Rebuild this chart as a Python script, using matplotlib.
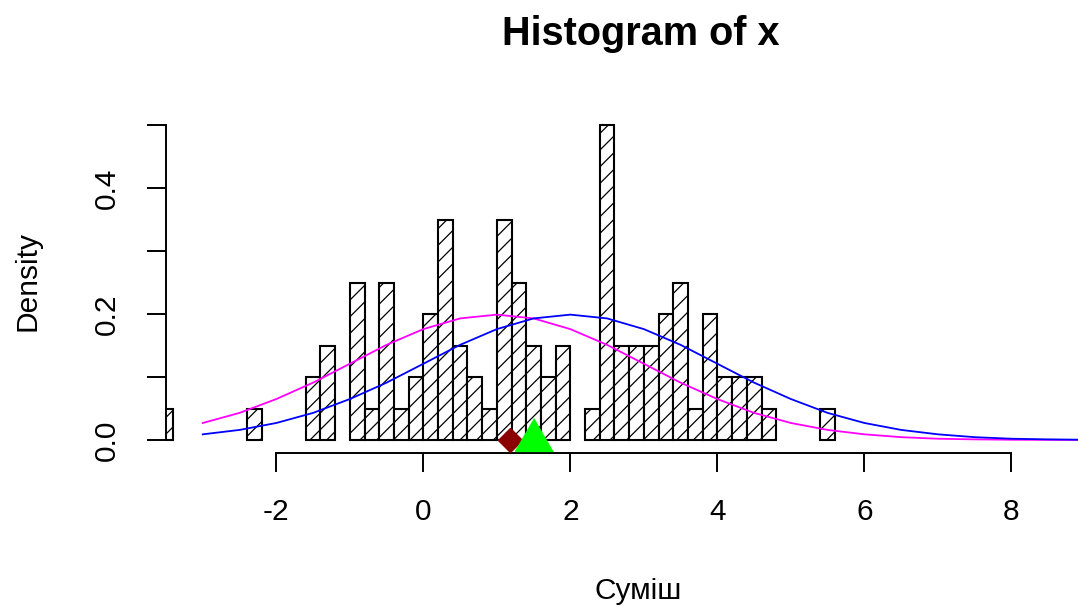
import matplotlib
matplotlib.use("Agg")
import matplotlib.pyplot as plt

plt.rcParams["font.family"] = ["Liberation Sans", "DejaVu Sans"]
plt.rcParams["hatch.linewidth"] = 0.9

# ── histogram of x (density scale, bin width 0.2) ─────────────────────────── #
bin_left = [-3.6, -2.4, -1.6, -1.4, -1.0, -0.8, -0.6, -0.4, -0.2, 0.0,
            0.2, 0.4, 0.6, 0.8, 1.0, 1.2, 1.4, 1.6, 1.8, 2.2,
            2.4, 2.6, 2.8, 3.0, 3.2, 3.4, 3.6, 3.8, 4.0, 4.2,
            4.4, 4.6, 5.4]
density = [0.05, 0.05, 0.10, 0.15, 0.25, 0.05, 0.25, 0.05, 0.10, 0.20,
           0.35, 0.15, 0.10, 0.05, 0.35, 0.25, 0.15, 0.10, 0.15, 0.05,
           0.50, 0.15, 0.15, 0.15, 0.20, 0.25, 0.05, 0.20, 0.10, 0.10,
           0.10, 0.05, 0.05]
bin_width = 0.2

# ── density curves (step 0.5) ────────────────────────────────────────────── #
curve_x = [-3.0, -2.5, -2.0, -1.5, -1.0, -0.5, 0.0, 0.5, 1.0, 1.5,
           2.0, 2.5, 3.0, 3.5, 4.0, 4.5, 5.0, 5.5, 6.0, 6.5,
           7.0, 7.5, 8.0, 8.5, 9.0, 9.5]
magenta_y = [0.027, 0.043, 0.065, 0.091, 0.121, 0.151, 0.176, 0.193, 0.199, 0.193,
             0.176, 0.151, 0.121, 0.091, 0.065, 0.043, 0.027, 0.016, 0.009, 0.0045,
             0.002, 0.001, 0.0004, 0.0002, 0.0001, 0.0]
blue_y = [0.009, 0.016, 0.027, 0.043, 0.065, 0.091, 0.121, 0.151, 0.176, 0.193,
          0.199, 0.193, 0.176, 0.151, 0.121, 0.091, 0.065, 0.043, 0.027, 0.016,
          0.009, 0.0045, 0.002, 0.001, 0.0004, 0.0002]

# ── point markers on the x axis ─────────────────────────────────────────── #
diamond_x, diamond_y = [1.18], [0.0]
triangle_x, triangle_y = [1.51], [0.0]

xticks = [-2, 0, 2, 4, 6, 8]
yticks = [0.0, 0.1, 0.2, 0.3, 0.4, 0.5]
ytick_labels = ["0.0", "", "0.2", "", "0.4", ""]

W, H = 1078, 608
fig = plt.figure(figsize=(W / 100, H / 100), dpi=100)
fig.patch.set_facecolor("white")

# plot region runs past the right edge of the picture (cropped R device)
left, right, top, bottom = 166, 1110, 112.4, 452.6
ax = fig.add_axes([left / W, 1 - bottom / H, (right - left) / W, (bottom - top) / H])
ax.set_facecolor("none")

ax.bar(bin_left, density, width=bin_width, align="edge",
       facecolor="white", edgecolor="black", linewidth=1.5, hatch="//", zorder=2)

ax.plot(curve_x, magenta_y, color="#ff00ff", lw=1.3, zorder=3)
ax.plot(curve_x, blue_y, color="#0000ff", lw=1.3, zorder=3)

ax.plot(diamond_x, diamond_y, ls="none", marker="D", markersize=12,
        color="#8b0000", zorder=4, clip_on=False)
tri = [(0, 1), (-0.866, -0.5), (0.866, -0.5)]
ax.plot(triangle_x, triangle_y, ls="none", marker=tri, markersize=31.5,
        color="#00ff00", zorder=5, clip_on=False)

ax.set_xlim(-3.5, 9.34)
ax.set_ylim(-0.02, 0.52)

for s in ("top", "right"):
    ax.spines[s].set_visible(False)
ax.spines["left"].set_bounds(0, 0.5)
ax.spines["bottom"].set_bounds(-2, 8)
for s in ("left", "bottom"):
    ax.spines[s].set_linewidth(1.4)

ax.set_xticks(xticks)
ax.set_xticklabels([str(t) for t in xticks])
ax.set_yticks(yticks)
ax.set_yticklabels(ytick_labels, rotation=90, va="center")
ax.tick_params(axis="both", direction="out", length=13.7, width=1.4,
               labelsize=21.5, colors="black")
ax.tick_params(axis="x", pad=19)
ax.tick_params(axis="y", pad=19)

fig.text(641 / W, 1 - 34 / H, "Histogram of x", ha="center", va="center",
         fontsize=28.5, fontweight="bold")
fig.text(638 / W, 1 - 591 / H, "Суміш", ha="center", va="center", fontsize=21.5)
fig.text(28 / W, 1 - 281 / H, "Density", ha="center", va="center",
         rotation=90, fontsize=21.5)

fig.savefig("out.png", dpi=100)
